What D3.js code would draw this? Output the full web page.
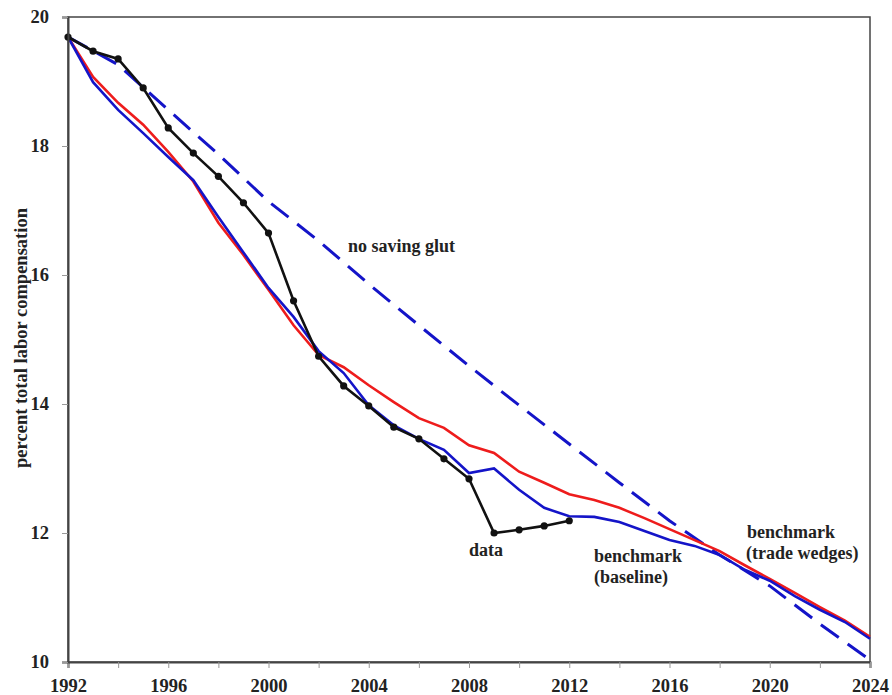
<!DOCTYPE html>
<html>
<head>
<meta charset="utf-8">
<script src="https://cdn.jsdelivr.net/npm/d3@7"></script>
<style>
  html, body { margin: 0; padding: 0; background: #fff; }
  svg { display: block; }
  text { font-family: "Liberation Serif", "Times New Roman", serif; font-weight: bold; fill: #222; }
</style>
</head>
<body>
<svg id="chart" width="892" height="695"></svg>
<script>
const years = d3.range(1992, 2025);
const dataYears = d3.range(1992, 2013);
const dataValues = [19.69, 19.47, 19.35, 18.90, 18.28, 17.89, 17.53, 17.12, 16.65, 15.60,
  14.74, 14.28, 13.97, 13.64, 13.46, 13.15, 12.84, 12.00, 12.05, 12.11, 12.19];
const baselineValues = [19.69, 18.99, 18.56, 18.20, 17.83, 17.47, 16.90, 16.35, 15.80, 15.35,
  14.82, 14.48, 13.98, 13.67, 13.46, 13.29, 12.93, 13.00, 12.67, 12.39, 12.26, 12.25, 12.17,
  12.03, 11.89, 11.80, 11.66, 11.43, 11.26, 11.02, 10.81, 10.62, 10.36];
const wedgesValues = [19.69, 19.07, 18.67, 18.33, 17.91, 17.45, 16.81, 16.31, 15.77, 15.22,
  14.76, 14.57, 14.29, 14.03, 13.78, 13.63, 13.36, 13.24, 12.95, 12.78, 12.60, 12.51, 12.39,
  12.23, 12.06, 11.89, 11.72, 11.50, 11.29, 11.07, 10.85, 10.64, 10.39];
const glutYears = d3.range(1992, 2025, 2);
const glutValues = [19.69, 19.26, 18.56, 17.87, 17.14, 16.53, 15.86, 15.22, 14.59, 13.98,
  13.38, 12.78, 12.19, 11.66, 11.18, 10.59, 10.03];
const xTicks = d3.range(1992, 2025, 2);
const xTickLabels = [1992, 1996, 2000, 2004, 2008, 2012, 2016, 2020, 2024];
const yTicks = [10, 12, 14, 16, 18, 20];

const svg = d3.select("#chart");
const x = d3.scaleLinear().domain([1992, 2024]).range([68, 870]);
const y = d3.scaleLinear().domain([10, 20]).range([662, 17]);

// frame
svg.append("rect")
  .attr("x", x(1992)).attr("y", y(20))
  .attr("width", x(2024) - x(1992)).attr("height", y(10) - y(20))
  .attr("fill", "none").attr("stroke", "#444").attr("stroke-width", 1.5);

const line = d3.line().x(d => x(d[0])).y(d => y(d[1]));

svg.append("path")
  .datum(glutYears.map((yr, i) => [yr, glutValues[i]]))
  .attr("d", line)
  .attr("fill", "none").attr("stroke", "#1414c8").attr("stroke-width", 3)
  .attr("stroke-dasharray", "22,11");

svg.append("path")
  .datum(years.map((yr, i) => [yr, wedgesValues[i]]))
  .attr("d", line)
  .attr("fill", "none").attr("stroke", "#ee1c1c").attr("stroke-width", 2.6);

svg.append("path")
  .datum(years.map((yr, i) => [yr, baselineValues[i]]))
  .attr("d", line)
  .attr("fill", "none").attr("stroke", "#1414c8").attr("stroke-width", 2.6);

const dataPts = dataYears.map((yr, i) => [yr, dataValues[i]]);
svg.append("path")
  .datum(dataPts)
  .attr("d", line)
  .attr("fill", "none").attr("stroke", "#111").attr("stroke-width", 2.6);
svg.selectAll("circle.dot").data(dataPts).enter().append("circle")
  .attr("class", "dot")
  .attr("cx", d => x(d[0])).attr("cy", d => y(d[1])).attr("r", 3.6)
  .attr("fill", "#111");

// axes
const xAxis = d3.axisBottom(x).tickValues(xTicks).tickSize(6).tickPadding(11)
  .tickFormat(d => xTickLabels.includes(d) ? String(d) : "");
const gx = svg.append("g").attr("transform", `translate(0,${y(10)})`).call(xAxis);
gx.select(".domain").attr("stroke", "#444").attr("stroke-width", 2);
gx.selectAll(".tick line").attr("stroke", "#999").attr("stroke-width", 1);
gx.selectAll(".tick text").style("font-size", "18.5px").attr("fill", "#222")
  .style("font-family", "'Liberation Serif', serif").style("font-weight", "bold");

const yAxis = d3.axisLeft(y).tickValues(yTicks).tickSize(6).tickPadding(13).tickFormat(d3.format("d"));
const gy = svg.append("g").attr("transform", `translate(${x(1992)},0)`).call(yAxis);
gy.select(".domain").attr("stroke", "#444").attr("stroke-width", 2);
gy.selectAll(".tick line").attr("stroke", "#999").attr("stroke-width", 1);
gy.selectAll(".tick text").style("font-size", "18.5px").attr("fill", "#222")
  .style("font-family", "'Liberation Serif', serif").style("font-weight", "bold");

// y axis title
svg.append("text")
  .attr("transform", "translate(27,338) rotate(-90)")
  .attr("text-anchor", "middle")
  .style("font-size", "18.5px")
  .text("percent total labor compensation");

// annotations
const ann = [
  { t: "no saving glut", x: 348, y: 252 },
  { t: "data", x: 469, y: 556 },
  { t: "benchmark", x: 594, y: 562 },
  { t: "(baseline)", x: 594, y: 583 },
  { t: "benchmark", x: 747, y: 538 },
  { t: "(trade wedges)", x: 746, y: 559 }
];
svg.selectAll("text.ann").data(ann).enter().append("text")
  .attr("class", "ann")
  .attr("x", d => d.x).attr("y", d => d.y)
  .style("font-size", "18px")
  .text(d => d.t);
</script>
</body>
</html>
